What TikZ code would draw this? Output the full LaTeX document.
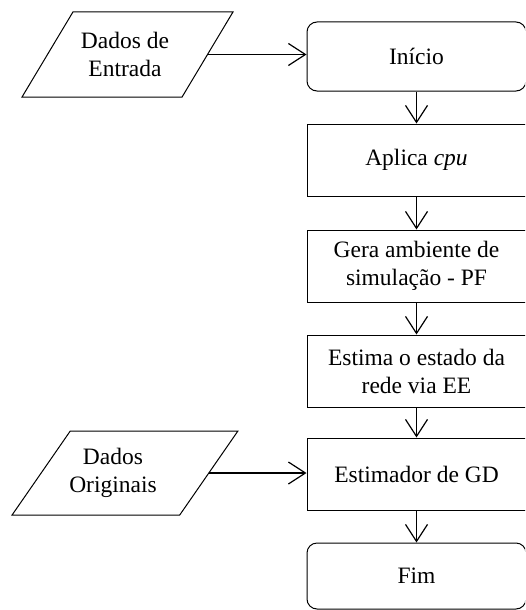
\documentclass[tikz,border=0pt]{standalone}
\usepackage{fontspec}
\setmainfont{LiberationSerif}[Extension=.ttf, UprightFont=*-Regular, ItalicFont=*-Italic, BoldFont=*-Bold]
\usetikzlibrary{arrows.meta,shapes.geometric}
\begin{document}
\begin{tikzpicture}[x=1pt,y=-1pt,
  lbl/.style={font=\fontsize{23.5}{28}\selectfont, align=center, inner sep=0pt},
  proc/.style={lbl, draw, line width=1pt, rectangle, minimum width=219pt, minimum height=72pt},
  term/.style={proc, rounded corners=10pt},
  iobox/.style={draw, line width=1pt, trapezium, trapezium stretches=true, inner sep=3pt},
  flow/.style={line width=1.2pt, -{Straight Barb[length=17pt,width=22pt,line width=1.2pt]}}
]
\useasboundingbox (0,0) rectangle (525,610);
\clip (0,0) rectangle (525,610);

\node[term, minimum height=69pt] (ini) at (416.5,56.5) {Início};
\node[proc] (apl) at (416.5,160) {Aplica \textit{cpu}};
\node[proc] (ger) at (416.5,266) {Gera ambiente de\\simulação - PF};
\node[proc] (est) at (416.5,371) {Estima o estado da\\rede via EE};
\node[proc] (gd)  at (416.5,474) {Estimador de GD};
\node[term, minimum height=66pt] (fim) at (416.5,576) {Fim};

\node[iobox, trapezium left angle=65, trapezium right angle=115,
      minimum width=211pt, minimum height=85pt] (din) at (127.5,54.5) {};
\node[lbl] (dinT) at (125,54.5) {Dados de\\Entrada};

\node[iobox, trapezium left angle=62, trapezium right angle=118,
      minimum width=226pt, minimum height=84pt] (dor) at (125,473) {};
\node[lbl] (dorT) at (113,473) {Dados\\Originais};

\draw[flow] (din.east) -- (din.east -| ini.west);
\draw[flow] (dor.east) -- (dor.east -| gd.west);
\draw[flow] (ini.south) -- (apl.north);
\draw[flow] (apl.south) -- (ger.north);
\draw[flow] (ger.south) -- (est.north);
\draw[flow] (est.south) -- (gd.north);
\draw[flow] (gd.south) -- (fim.north);
\end{tikzpicture}
\end{document}
